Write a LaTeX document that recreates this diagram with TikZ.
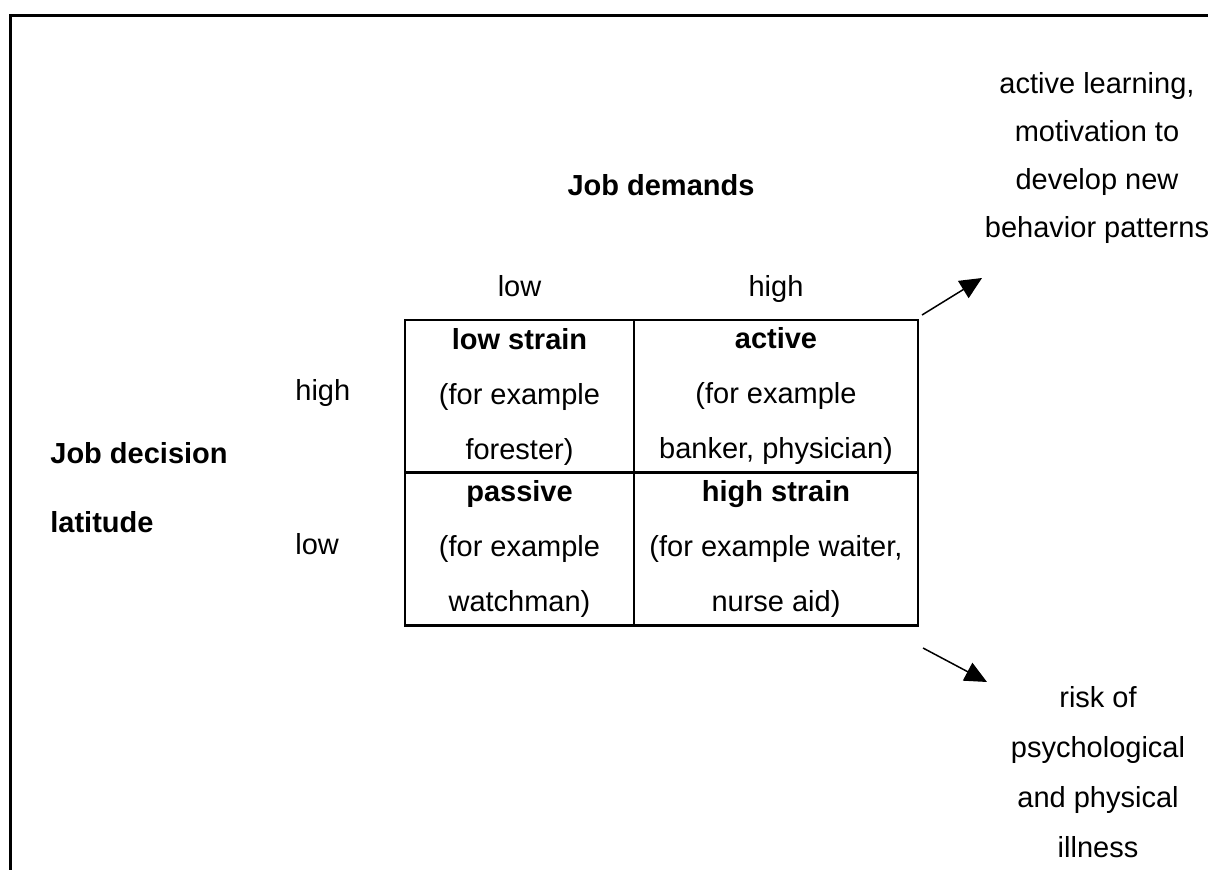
\documentclass[tikz,border=0pt]{standalone}
\usepackage{fontspec}
\setmainfont{Liberation Sans}
\usetikzlibrary{arrows.meta}

\begin{document}
\begin{tikzpicture}[x=0.5pt,y=-0.5pt,
		txt/.style={font=\fontsize{14.5}{27.5}\selectfont, align=center, inner sep=0pt},
		cell/.style={txt, draw, line width=1.25pt, minimum height=76.5pt},
		outcome/.style={-{Triangle[length=11pt,width=10pt]}, line width=0.75pt}]
			\useasboundingbox (0,0) rectangle (1208,870);
			\draw[line width=1.5pt] (10.5,870) -- (10.5,15.3) -- (1208,15.3);
			\node[cell, minimum width=114.5pt] (lowstrain) at (519.5,396.5) {\textbf{low strain}\\(for example\\forester)};
			\node[cell, minimum width=142pt] (active) at (776,396.5) {\textbf{active}\\(for example\\banker, physician)};
			\node[cell, minimum width=114.5pt] (passive) at (519.5,549) {\textbf{passive}\\(for example\\watchman)};
			\node[cell, minimum width=142pt] (highstrain) at (776,549) {\textbf{high strain}\\(for example waiter,\\nurse aid)};
			\node[txt, anchor=base] (demlow) at (519.5,297) {low};
			\node[txt, anchor=base] (demhigh) at (776,297) {high};
			\node[txt] (demands) at (661,185) {\textbf{Job demands}};
			\node[txt, anchor=base west] (latitudehigh) at (295,400.5) {high};
			\node[txt, anchor=base west] (latitudelow) at (295,554.5) {low};
			\node[txt, anchor=west, align=left, font=\fontsize{14.5}{34.5}\selectfont\bfseries] (latitude) at (50,487.5) {Job decision\\latitude};
			\node[txt, font=\fontsize{14.5}{24}\selectfont] (learning) at (1097,158) {active learning,\\motivation to\\develop new\\behavior patterns};
			\node[txt, font=\fontsize{14.5}{25}\selectfont] (illness) at (1098,772) {risk of\\psychological\\and physical\\illness};
			\coordinate (upstart) at (922,315);
			\coordinate (upend) at (982,278);
			\coordinate (downstart) at (923,648);
			\coordinate (downend) at (987,682);
			\draw[outcome] (upstart) -- (upend);
			\draw[outcome] (downstart) -- (downend);
		\end{tikzpicture}
\end{document}
